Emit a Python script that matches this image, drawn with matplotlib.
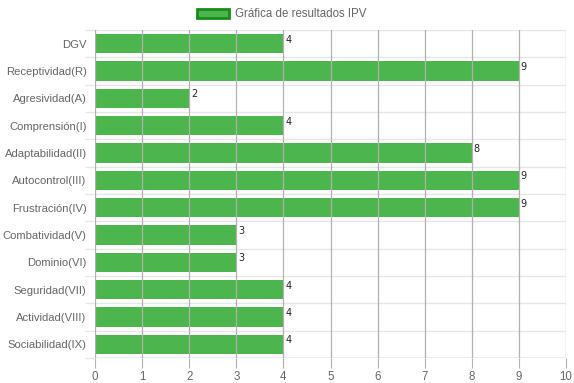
import matplotlib
matplotlib.use('Agg')
import matplotlib.pyplot as plt
from matplotlib.patches import Patch

categories = ['DGV', 'Receptividad(R)', 'Agresividad(A)', 'Comprensión(I)',
              'Adaptabilidad(II)', 'Autocontrol(III)', 'Frustración(IV)',
              'Combatividad(V)', 'Dominio(VI)', 'Seguridad(VII)',
              'Actividad(VIII)', 'Sociabilidad(IX)']
values = [4, 9, 2, 4, 8, 9, 9, 3, 3, 4, 4, 4]
x_ticks = list(range(0, 11))

bar_color = '#4db54d'
edge_color = '#1a8c1a'

plt.rcParams['font.family'] = ['Liberation Sans', 'DejaVu Sans']

fig = plt.figure(figsize=(5.74, 3.83), dpi=100)
ax = fig.add_axes([95 / 574, 1 - 358 / 383, (566 - 95) / 574, (358 - 30) / 383])

n = len(categories)
pos = list(range(n))
ax.barh(pos, values, height=0.7, color=bar_color, zorder=1)

for p, v in zip(pos, values):
    ax.text(v + 0.04, p - 0.33, str(v), fontsize=7, color='#222222',
            va='top', ha='left', family='DejaVu Sans')

ax.set_xlim(0, 10)
ax.set_ylim(n - 0.5, -0.5)
ax.set_xticks(x_ticks)
ax.set_xticklabels([str(t) for t in x_ticks], color='#666666', fontsize=8.3)
ax.set_yticks(pos)
ax.set_yticklabels(categories, color='#666666', fontsize=8.1)
ax.set_yticks([b - 0.5 for b in range(n + 1)], minor=True)

# vertical grid lines (darker) drawn over bars
for t in x_ticks:
    ax.axvline(t, color='#b0b0b0', lw=0.9, zorder=2)
# horizontal grid lines between categories
for b in range(n + 1):
    ax.axhline(b - 0.5, color='#e6e6e6', lw=1, zorder=0)
ax.axhline(n - 0.5, color='#b0b0b0', lw=1, zorder=2)

for s in ax.spines.values():
    s.set_visible(False)
ax.tick_params(axis='x', length=7, color='#b0b0b0', pad=2)
ax.tick_params(axis='y', which='major', length=0, pad=6)
ax.tick_params(axis='y', which='minor', length=7, color='#e6e6e6', width=1)

leg_handle = Patch(facecolor=bar_color, edgecolor=edge_color, linewidth=2,
                   label='Gráfica de resultados IPV')
fig.legend(handles=[leg_handle], loc='upper center', bbox_to_anchor=(0.49, 1.005),
           frameon=False, fontsize=8.3, handlelength=2.8, handleheight=0.9,
           labelcolor='#666666', handletextpad=0.5)

fig.savefig('out.png', dpi=100)
